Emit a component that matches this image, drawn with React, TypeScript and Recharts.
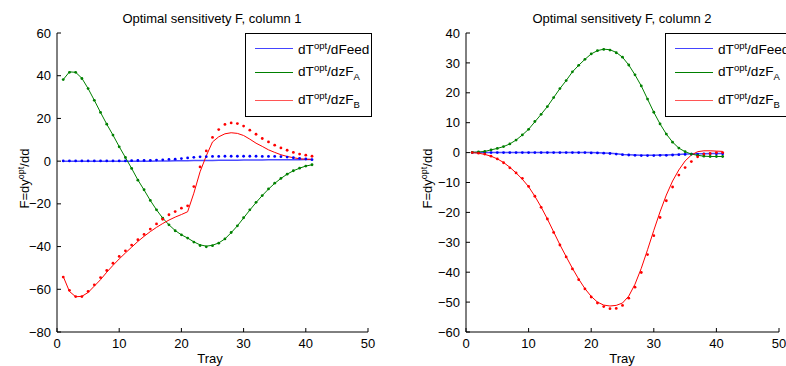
import React from 'react';
import { LineChart, Line, XAxis, YAxis } from 'recharts';

const trays = [1, 2, 3, 4, 5, 6, 7, 8, 9, 10, 11, 12, 13, 14, 15, 16, 17, 18, 19, 20, 21, 22, 23, 24, 25, 26, 27, 28, 29, 30, 31, 32, 33, 34, 35, 36, 37, 38, 39, 40, 41];

// column 1
const c1FeedLine = [0, 0, 0, 0, 0, 0, 0, 0, 0, 0, 0, 0, 0, 0, 0, 0.1, 0.1, 0.1, 0.2, 0.2, 0.2, 0.3, 0.3, 0.3, 0.3, 0.4, 0.4, 0.4, 0.4, 0.5, 0.5, 0.5, 0.5, 0.6, 0.6, 0.6, 0.7, 0.7, 0.7, 0.8, 0.8];
const c1FeedDots = [0.1, 0.1, 0.1, 0.1, 0.1, 0.1, 0.1, 0.1, 0.1, 0.1, 0.1, 0.2, 0.3, 0.3, 0.4, 0.5, 0.6, 0.8, 0.9, 1.2, 1.5, 1.8, 2.0, 2.1, 2.2, 2.2, 2.3, 2.3, 2.3, 2.3, 2.3, 2.3, 2.2, 2.2, 2.2, 2.1, 1.9, 1.6, 1.3, 1.0, 0.7];
const c1ZfaLine = [38.2, 41.8, 41.6, 38.8, 34, 28.5, 22.8, 17.3, 12.2, 6.8, 1.7, -3.4, -8.8, -13.5, -18.4, -22.8, -26.7, -29.8, -32.5, -34.5, -36, -37.8, -39.2, -39.8, -39.4, -38.3, -36.4, -33.5, -30.3, -26.6, -22.9, -19.4, -16.1, -13.1, -10.4, -8.1, -6.1, -4.5, -3.3, -2.3, -1.7];
const c1ZfaDots = [38.2, 41.6, 41.6, 38.7, 34, 28.5, 22.8, 17.3, 12.2, 6.7, 1.7, -3.4, -8.9, -13.4, -18.4, -22.8, -26.7, -29.8, -32.6, -34.5, -36, -37.9, -39.5, -40.1, -39.6, -38.4, -36.4, -33.4, -30.3, -26.5, -22.8, -19.3, -16.1, -13, -10.3, -8.1, -6.1, -4.5, -3.3, -2.3, -1.7];
const c1ZfbLine = [-54, -61, -63.5, -63.3, -61.5, -58.5, -55.5, -52, -48.8, -45.8, -43, -40.3, -37.6, -35.2, -33, -31, -29.2, -27.6, -26.2, -25, -23.7, -15, -5, 2.5, 9, 11.4, 12.8, 13.3, 13, 12, 10.3, 8.4, 6.9, 5.3, 4.1, 3, 2.2, 1.6, 1.1, 0.9, 0.8];
const c1ZfbDots = [-54.3, -60.5, -63.4, -63.4, -61, -57.9, -54.5, -51.2, -47.8, -44.6, -42, -39.3, -36.8, -34.3, -31.8, -29.4, -27.2, -25.1, -23.6, -22, -20.9, -11.9, -2.7, 4.8, 11.1, 14.8, 17.2, 17.9, 17.6, 16.4, 14.5, 12.6, 10.6, 9, 7.5, 6.2, 5.1, 4.1, 3.3, 2.8, 2.3];

// column 2
const c2FeedLine = [0, 0, 0, 0, 0, 0, 0, 0, 0, 0, 0, 0, 0, 0, 0, 0, 0, 0, 0, 0, -0.05, -0.1, -0.2, -0.4, -0.6, -0.7, -0.8, -0.9, -0.9, -0.9, -0.8, -0.8, -0.7, -0.6, -0.5, -0.5, -0.4, -0.4, -0.3, -0.3, -0.3];
const c2FeedDots = [0, 0, 0, 0, 0, 0, 0, 0, 0, 0, 0, 0, 0, 0, 0, 0, 0, 0, 0, -0.1, -0.1, -0.2, -0.3, -0.5, -0.7, -0.8, -0.9, -1, -1, -1, -0.9, -0.9, -0.8, -0.7, -0.6, -0.5, -0.5, -0.4, -0.4, -0.4, -0.4];
const c2ZfaLine = [0.1, 0.2, 0.4, 0.9, 1.4, 2, 2.9, 4.2, 5.9, 7.8, 10.3, 12.8, 15.4, 18.4, 21.4, 24.1, 27, 29.2, 31.2, 33, 34.1, 34.6, 34.4, 33.5, 31.9, 29.3, 26, 22.3, 17.9, 13.5, 9.6, 6.2, 3.5, 1.5, 0.3, -0.5, -0.9, -1.2, -1.3, -1.3, -1.3];
const c2ZfaDots = [0.1, 0.2, 0.4, 0.9, 1.4, 2, 2.9, 4.2, 5.9, 7.8, 10.4, 12.8, 15.4, 18.4, 21.4, 24.1, 27, 29.2, 31.2, 33, 34.1, 34.5, 34.3, 33.4, 31.9, 29.3, 26, 22.3, 17.9, 13.5, 9.6, 6.2, 3.5, 1.5, 0.3, -0.5, -0.9, -1.2, -1.3, -1.3, -1.3];
const c2ZfbLine = [0, -0.2, -0.6, -1.2, -2.1, -3.3, -4.9, -6.8, -8.9, -11.4, -14.6, -18.2, -22.2, -26.5, -30.8, -34.8, -38.7, -42.3, -45.5, -48.1, -50, -51, -51.3, -51.1, -50.3, -48, -44, -38.7, -32.5, -26, -19.8, -14.2, -9.5, -5.8, -2.8, -0.8, 0.3, 0.6, 0.6, 0.5, 0.4];
const c2ZfbDots = [0, -0.2, -0.5, -1.2, -2.1, -3.4, -5.1, -6.8, -8.6, -11.3, -14.6, -18.3, -22.2, -26.7, -30.9, -34.9, -38.9, -42.5, -45.6, -48.3, -50.3, -51.5, -52.2, -52.1, -51.1, -48.7, -45, -40.1, -34.1, -27.8, -21.7, -16.1, -11.5, -7.5, -5, -3, -1.4, -0.5, -0.3, 0, 0];

const BLUE = '#0000ff';
const GREEN = '#008000';
const RED = '#ff0000';
const FONT = '"Liberation Sans", Arial, sans-serif';

const build = (f: number[], fd: number[], a: number[], ad: number[], b: number[], bd: number[]) =>
  trays.map((t, i) => ({ tray: t, f: f[i], fd: fd[i], a: a[i], ad: ad[i], b: b[i], bd: bd[i] }));

const data1 = build(c1FeedLine, c1FeedDots, c1ZfaLine, c1ZfaDots, c1ZfbLine, c1ZfbDots);
const data2 = build(c2FeedLine, c2FeedDots, c2ZfaLine, c2ZfaDots, c2ZfbLine, c2ZfbDots);

const xTicks = [0, 10, 20, 30, 40, 50];
const yTicks1 = [-80, -60, -40, -20, 0, 20, 40, 60];
const yTicks2 = [-60, -50, -40, -30, -20, -10, 0, 10, 20, 30, 40];

const tickStyle = { fill: '#000', fontSize: 13, fontFamily: FONT };

const YLabel = (bx: number) => (props: any) => {
  const vb = props.viewBox || {};
  const cy = vb.y + vb.height / 2 - 4;
  return (
    <text x={bx} y={cy} transform={`rotate(-90 ${bx} ${cy})`} textAnchor="middle" fontSize={13} fontFamily={FONT} fill="#000">
      F=dy<tspan fontSize={9} dy={-5}>opt</tspan><tspan dy={5}>/dd</tspan>
    </text>
  );
};

const LegendBox = ({ left }: { left: number }) => {
  const rows = [
    { color: '#4444ff', w: 1.5, main: '/dFeed', sub: '' },
    { color: GREEN, w: 1, main: '/dzF', sub: 'A' },
    { color: '#ff5555', w: 1.5, main: '/dzF', sub: 'B' },
  ];
  return (
    <div style={{ position: 'absolute', left, top: 33, width: 127, height: 84, border: '1px solid #000', background: '#fff', boxSizing: 'border-box', fontFamily: FONT, fontSize: 13.6 }}>
      {rows.map((r, i) => (
        <div key={i} style={{ position: 'absolute', left: 9, top: [5, 29, 57][i], height: 18, display: 'flex', alignItems: 'center', whiteSpace: 'nowrap' }}>
          <div style={{ width: 38, height: 0, borderTop: `${r.w}px solid ${r.color}`, marginRight: 5 }} />
          <span>
            dT<sup style={{ fontSize: 9.5, verticalAlign: 5 }}>opt</sup>{r.main}
            {r.sub && <sub style={{ fontSize: 9.5, verticalAlign: -4 }}>{r.sub}</sub>}
          </span>
        </div>
      ))}
    </div>
  );
};

const Panel = ({ data, yTicks, yDomain, yAxisWidth, rightMargin, labelX }: any) => (
  <LineChart width={393} height={366} data={data}
    margin={{ top: 33, right: rightMargin, bottom: 0, left: 0 }}>
    <XAxis dataKey="tray" type="number" domain={[0, 50]} ticks={xTicks} height={34}
      axisLine={{ stroke: '#000' }} tickLine={{ stroke: '#000' }} tickSize={-4} tickMargin={11}
      tick={tickStyle} interval={0} />
    <YAxis type="number" domain={yDomain} ticks={yTicks} width={yAxisWidth} interval={0}
      axisLine={{ stroke: '#000' }} tickLine={{ stroke: '#000' }} tickSize={-4} tickMargin={10}
      tick={tickStyle} tickFormatter={(v: number) => (v < 0 ? `\u2212${-v}` : `${v}`)}
      label={YLabel(labelX)} />
    <Line dataKey="f" stroke={BLUE} strokeWidth={1.5} strokeOpacity={0.7} dot={false} isAnimationActive={false} />
    <Line dataKey="a" stroke={GREEN} strokeWidth={1} dot={false} isAnimationActive={false} />
    <Line dataKey="b" stroke={RED} strokeWidth={1} dot={false} isAnimationActive={false} />
    <Line dataKey="fd" stroke="none" dot={{ r: 1.4, fill: BLUE, stroke: 'none' }} isAnimationActive={false} />
    <Line dataKey="ad" stroke="none" dot={{ r: 1.4, fill: GREEN, stroke: 'none' }} isAnimationActive={false} />
    <Line dataKey="bd" stroke="none" dot={{ r: 1.4, fill: RED, stroke: 'none' }} isAnimationActive={false} />
  </LineChart>
);

const titleStyle = (cx: number): React.CSSProperties => ({
  position: 'absolute', left: cx - 150, width: 300, top: 12, lineHeight: '13px', textAlign: 'center', fontFamily: FONT, fontSize: 13, color: '#000',
});
const trayStyle = (cx: number): React.CSSProperties => ({
  position: 'absolute', left: cx - 50, width: 100, top: 352, lineHeight: '13px', textAlign: 'center', fontFamily: FONT, fontSize: 13, color: '#000',
});

export default function App() {
  return (
    <div style={{ position: 'absolute', left: 0, top: 0, width: 786, height: 366, overflow: 'hidden', background: '#fff' }}>
      <div style={{ position: 'absolute', left: 0, top: 0 }}>
        <Panel data={data1} yTicks={yTicks1} yDomain={[-80, 60]} yAxisWidth={57} rightMargin={25} labelX={29} />
      </div>
      <div style={{ position: 'absolute', left: 393, top: 0 }}>
        <Panel data={data2} yTicks={yTicks2} yDomain={[-60, 40]} yAxisWidth={73} rightMargin={7} labelX={39} />
      </div>
      <div style={titleStyle(212)}>Optimal sensitivety F, column 1</div>
      <div style={titleStyle(622)}>Optimal sensitivety F, column 2</div>
      <div style={trayStyle(210)}>Tray</div>
      <div style={trayStyle(622)}>Tray</div>
      <LegendBox left={245} />
      <LegendBox left={665} />
    </div>
  );
}
